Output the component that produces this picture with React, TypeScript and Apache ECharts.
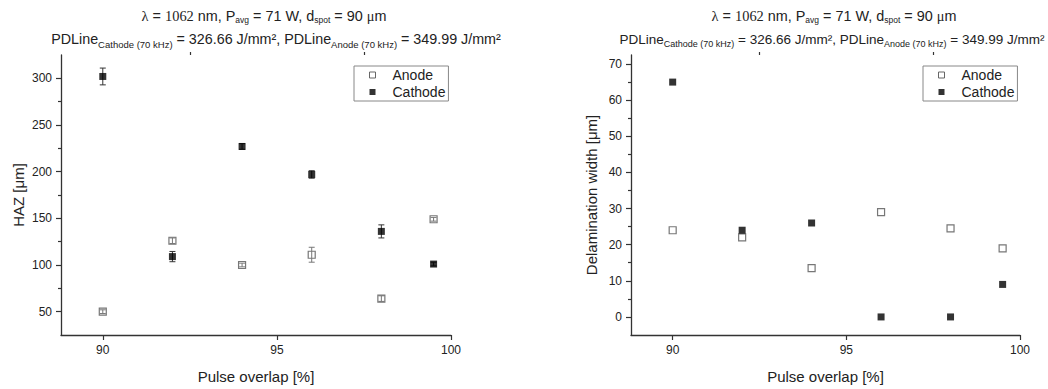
import React, { useEffect, useRef } from "react";
import * as echarts from "echarts";

const xValues = [90, 92, 94, 96, 98, 99.5];
const hazAnode = [50, 126, 100, 111, 64, 149];
const hazAnodeErr = [2, 3, 2, 8, 3, 2];
const hazCathode = [302, 109, 227, 197, 136, 101];
const hazCathodeErr = [9, 5.5, 3, 4, 7, 2];
const delamAnode = [24, 22, 13.5, 29, 24.5, 19];
const delamCathode = [65, 24, 26, 0, 0, 9];

const xMajorTicks = [90, 95, 100];
const xMinorTicks = [92.5, 97.5];
const hazMajorTicks = [50, 100, 150, 200, 250, 300];
const hazMinorTicks = [75, 125, 175, 225, 275];
const delamMajorTicks = [0, 10, 20, 30, 40, 50, 60, 70];
const delamMinorTicks = [5, 15, 25, 35, 45, 55, 65];

const SANS = "Arial, 'Liberation Sans', Helvetica, sans-serif";
const SERIF = "'Times New Roman', 'Liberation Serif', serif";
const TXT = "#222";
const AXIS = "#333";

const title1 =
  "{s|λ}{n| = }{s|1062}{n| nm, P}{b|avg}{n| = 71 W, d}{b|spot}{n| = 90 }{s|μ}{n|m}";
const title2 =
  "{n|PDLine}{b|Cathode (70 kHz)}{n| = 326.66 J/mm², PDLine}{b|Anode (70 kHz)}{n| = 349.99 J/mm²}";

function makeRich(main: number, sub: number) {
  return {
    n: { fontSize: main, fontFamily: SANS, lineHeight: 16, verticalAlign: "top", fill: TXT, color: TXT },
    s: { fontSize: main, fontFamily: SERIF, lineHeight: 16, verticalAlign: "top", fill: TXT, color: TXT },
    b: { fontSize: sub, fontFamily: SANS, lineHeight: 9, padding: [7, 0, 0, 0], verticalAlign: "top", fill: TXT, color: TXT },
  };
}
const richLine1 = makeRich(14.4, 8.5);
const richLeft2 = makeRich(14.3, 9.5);
const richRight2 = makeRich(13.5, 9);

function pairs(xs: number[], ys: number[]) {
  return xs.map((x, i) => [x, ys[i]]);
}
function triples(xs: number[], ys: number[], es: number[]) {
  return xs.map((x, i) => [x, ys[i], es[i]]);
}

function errorRender(color: string) {
  return (params: any, api: any) => {
    const x = api.value(0);
    const y = api.value(1);
    const e = api.value(2);
    const top = api.coord([x, y + e]);
    const bot = api.coord([x, y - e]);
    const hw = 3;
    const style = { stroke: color, lineWidth: 1, fill: null };
    return {
      type: "group",
      children: [
        { type: "line", shape: { x1: top[0], y1: top[1], x2: bot[0], y2: bot[1] }, style },
        { type: "line", shape: { x1: top[0] - hw, y1: top[1], x2: top[0] + hw, y2: top[1] }, style },
        { type: "line", shape: { x1: bot[0] - hw, y1: bot[1], x2: bot[0] + hw, y2: bot[1] }, style },
      ],
    };
  };
}

function majorX(gridIndex: number) {
  return {
    type: "value",
    gridIndex,
    min: 88.8,
    max: 100,
    name: "Pulse overlap [%]",
    nameLocation: "middle",
    nameGap: 34,
    nameTextStyle: { fontSize: 15, fontFamily: SANS, color: TXT },
    axisLine: { show: true, onZero: false, lineStyle: { color: AXIS, width: 1.3 } },
    axisTick: { show: true, length: 5, customValues: xMajorTicks, lineStyle: { color: AXIS, width: 1.2 } },
    axisLabel: { show: true, customValues: xMajorTicks, margin: 9, fontSize: 12, fontFamily: SANS, color: TXT },
    splitLine: { show: false },
  };
}
function minorX(gridIndex: number) {
  return {
    type: "value",
    gridIndex,
    min: 88.8,
    max: 100,
    axisLine: { show: false, onZero: false },
    axisTick: { show: true, length: 3, customValues: xMinorTicks, lineStyle: { color: AXIS, width: 1.2 } },
    axisLabel: { show: false },
    splitLine: { show: false },
  };
}
function majorY(gridIndex: number, min: number, max: number, ticks: number[], name: string, nameGap: number) {
  return {
    type: "value",
    gridIndex,
    position: "left",
    min,
    max,
    name,
    nameLocation: "middle",
    nameGap,
    nameTextStyle: { fontSize: 15, fontFamily: SANS, color: TXT },
    axisLine: { show: true, onZero: false, lineStyle: { color: AXIS, width: 1.3 } },
    axisTick: { show: true, length: 5, customValues: ticks, lineStyle: { color: AXIS, width: 1.2 } },
    axisLabel: { show: true, customValues: ticks, margin: 9, fontSize: 12, fontFamily: SANS, color: TXT },
    splitLine: { show: false },
  };
}
function minorY(gridIndex: number, min: number, max: number, ticks: number[]) {
  return {
    type: "value",
    gridIndex,
    position: "left",
    offset: 0,
    min,
    max,
    axisLine: { show: false, onZero: false },
    axisTick: { show: true, length: 3, customValues: ticks, lineStyle: { color: AXIS, width: 1.2 } },
    axisLabel: { show: false },
    splitLine: { show: false },
  };
}

function legendAt(left: number) {
  return {
    orient: "vertical",
    left,
    top: 66,
    padding: [1, 3, 1, 15],
    itemGap: 1,
    itemWidth: 6,
    itemHeight: 6,
    borderColor: "#888",
    borderWidth: 1,
    textStyle: { fontSize: 14, fontFamily: SANS, color: TXT, lineHeight: 16, padding: [0, 0, 0, 12] },
    data: [
      { name: "Anode", icon: "rect", itemStyle: { color: "#fff", borderColor: "#666", borderWidth: 1 } },
      { name: "Cathode", icon: "rect", itemStyle: { color: "#000" } },
    ],
  };
}

const anodeStyle = { color: "#fff", borderColor: "#777", borderWidth: 1.2, opacity: 1 };
const cathodeStyle = { color: "#000", borderColor: "#000", borderWidth: 0 };

function titleText(x: number, y: number, text: string, rich: any) {
  return {
    type: "text",
    x,
    y,
    style: { text, rich, align: "center", verticalAlign: "middle", textAlign: "center", textVerticalAlign: "middle" },
  };
}

export default function App() {
  const ref = useRef<HTMLDivElement>(null);
  useEffect(() => {
    if (!ref.current) return;
    const chart = echarts.init(ref.current, null, { renderer: "svg" });
    const option: any = {
      animation: false,
      backgroundColor: "#fff",
      grid: [
        { left: 61, top: 55, width: 390, height: 286 },
        { left: 631, top: 55, width: 389, height: 286 },
      ],
      xAxis: [majorX(0), minorX(0), majorX(1), minorX(1)],
      yAxis: [
        majorY(0, 25, 325, hazMajorTicks, "HAZ [μm]", 35),
        minorY(0, 25, 325, hazMinorTicks),
        majorY(1, -5, 72.5, delamMajorTicks, "Delamination width [μm]", 32),
        minorY(1, -5, 72.5, delamMinorTicks),
      ],
      legend: [legendAt(354), legendAt(923)],
      graphic: [
        titleText(264, 16.5, title1, richLine1),
        titleText(276, 40, title2, richLeft2),
        titleText(834, 16.5, title1, richLine1),
        titleText(832, 40, title2, richRight2),
      ],
      series: [
        {
          name: "Anode",
          type: "scatter",
          xAxisIndex: 0,
          yAxisIndex: 0,
          symbol: "rect",
          symbolSize: 7,
          itemStyle: anodeStyle,
          data: pairs(xValues, hazAnode),
          z: 3,
        },
        {
          name: "Cathode",
          type: "scatter",
          xAxisIndex: 0,
          yAxisIndex: 0,
          symbol: "rect",
          symbolSize: 7,
          itemStyle: cathodeStyle,
          data: pairs(xValues, hazCathode),
          z: 3,
        },
        {
          type: "custom",
          xAxisIndex: 0,
          yAxisIndex: 0,
          renderItem: errorRender("#777"),
          data: triples(xValues, hazAnode, hazAnodeErr),
          z: 4,
          silent: true,
        },
        {
          type: "custom",
          xAxisIndex: 0,
          yAxisIndex: 0,
          renderItem: errorRender("#333"),
          data: triples(xValues, hazCathode, hazCathodeErr),
          z: 2,
          silent: true,
        },
        {
          name: "Anode",
          type: "scatter",
          xAxisIndex: 2,
          yAxisIndex: 2,
          symbol: "rect",
          symbolSize: 7,
          itemStyle: anodeStyle,
          data: pairs(xValues, delamAnode),
          z: 3,
        },
        {
          name: "Cathode",
          type: "scatter",
          xAxisIndex: 2,
          yAxisIndex: 2,
          symbol: "rect",
          symbolSize: 7,
          itemStyle: cathodeStyle,
          data: pairs(xValues, delamCathode),
          z: 3,
        },
      ],
    };
    chart.setOption(option);
    return () => chart.dispose();
  }, []);
  return (
    <div
      ref={ref}
      style={{ position: "fixed", left: 0, top: 0, width: 1048, height: 389, background: "#fff" }}
    />
  );
}
